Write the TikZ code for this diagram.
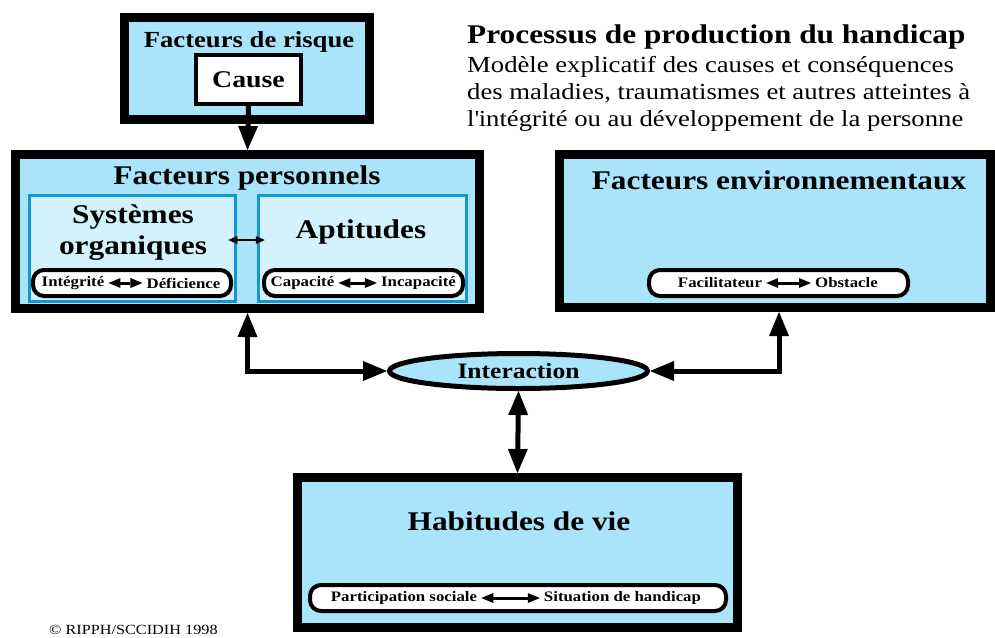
\documentclass[tikz,border=0pt]{standalone}
\usepackage{fontspec}
\setmainfont{Liberation Serif}[FakeStretch=1.16]
\usetikzlibrary{arrows.meta}
\usetikzlibrary{shapes.geometric}
\definecolor{lb}{HTML}{AAE4FA}
\definecolor{vl}{HTML}{D4F2FD}
\definecolor{mb}{HTML}{1198D0}
\tikzset{
  bigbox/.style={draw=black, line width=9pt, fill=lb, inner sep=0pt},
  subbox/.style={draw=mb, line width=3.5pt, fill=vl, inner sep=0pt},
  pillbox/.style={draw=black, line width=4pt, fill=white, rounded corners=11pt, inner sep=0pt},
  headtext/.style={font=\bfseries\fontsize{27}{31}\selectfont, inner sep=0pt},
  pilltext/.style={font=\bfseries\fontsize{14.5}{17}\selectfont, inner sep=4pt},
  bigarrow/.style={line width=5pt, {Triangle[length=24pt,width=20pt,line width=0pt]}-{Triangle[length=24pt,width=20pt,line width=0pt]}},
  pillarrow/.style={line width=3pt, {Triangle[length=12pt,width=10pt,line width=0pt]}-{Triangle[length=12pt,width=10pt,line width=0pt]}},
}

\begin{document}
\begin{tikzpicture}[x=1pt, y=-1pt]
  \useasboundingbox (0,0) rectangle (995,637);
  \clip (0,0) rectangle (995,637);

  % title
  \node[font=\bfseries\fontsize{27}{30}\selectfont, anchor=base west, inner sep=0pt] (titre) at (467,43) {Processus de production du handicap};
  \node[font=\fontsize{23}{27}\selectfont, anchor=base west, inner sep=0pt] (sous1) at (467,72) {Modèle explicatif des causes et conséquences};
  \node[font=\fontsize{23}{27}\selectfont, anchor=base west, inner sep=0pt] (sous2) at (467,99) {des maladies, traumatismes et autres atteintes à};
  \node[font=\fontsize{23}{27}\selectfont, anchor=base west, inner sep=0pt] (sous3) at (467,126) {l\textquotesingle intégrité ou au développement de la personne};

  % facteurs de risque
  \node[bigbox, minimum width=245pt, minimum height=102pt] (risque) at (247,68.5) {};
  \node[font=\bfseries\fontsize{23}{26}\selectfont, anchor=base, inner sep=0pt] (risquelbl) at (249,47) {Facteurs de risque};
  \node[draw=black, line width=4pt, fill=white, minimum width=105pt, minimum height=49pt, inner sep=0pt,
        font=\bfseries\fontsize{24}{28}\selectfont] (cause) at (248.5,79.5) {Cause};

  % facteurs personnels
  \node[bigbox, minimum width=464pt, minimum height=154pt] (pers) at (247.5,231.5) {};
  \node[headtext, anchor=base] (perslbl) at (247,184) {Facteurs personnels};
  \node[subbox, minimum width=206pt, minimum height=106pt] (sys) at (132.5,248.5) {};
  \node[subbox, minimum width=208pt, minimum height=106pt] (apt) at (362.5,248.5) {};
  \node[headtext, align=center] (syslbl) at (133,233) {Systèmes\\organiques};
  \node[headtext, anchor=base] (aptlbl) at (361,238) {Aptitudes};
  \draw[line width=2pt, {Triangle[length=9pt,width=8pt,line width=0pt]}-{Triangle[length=9pt,width=8pt,line width=0pt]}]
    ([xshift=-9pt, yshift=8.5pt]sys.east) -- ([xshift=8pt, yshift=8.5pt]apt.west);

  \node[pillbox, minimum width=198pt, minimum height=26pt] (integ) at (132,283) {};
  \node[pilltext] (integtxt) at (73,283) {Intégrité};
  \node[pilltext] (defic) at (183.5,283) {Déficience};
  \draw[pillarrow] (integtxt) -- (defic);

  \node[pillbox, minimum width=199pt, minimum height=26pt] (capa) at (363.5,283) {};
  \node[pilltext] (capatxt) at (302.5,283) {Capacité};
  \node[pilltext] (incapa) at (418.5,283) {Incapacité};
  \draw[pillarrow] (capatxt) -- (incapa);

  % facteurs environnementaux
  \node[bigbox, minimum width=431pt, minimum height=153pt] (env) at (775,231) {};
  \node[headtext, anchor=base] (envlbl) at (779,189) {Facteurs environnementaux};
  \node[pillbox, minimum width=259pt, minimum height=26pt] (facil) at (778.5,283) {};
  \node[pilltext] (faciltxt) at (720,283) {Facilitateur};
  \node[pilltext] (obst) at (846.5,283) {Obstacle};
  \draw[pillarrow] (faciltxt) -- (obst);

  % interaction
  \node[ellipse, draw=black, line width=5pt, fill=lb, minimum width=258pt, minimum height=35pt, inner sep=0pt,
        font=\bfseries\fontsize{22}{26}\selectfont] (inter) at (518.5,371) {Interaction};

  % habitudes de vie
  \node[bigbox, minimum width=440pt, minimum height=150pt] (hab) at (517.5,552.5) {};
  \node[headtext, anchor=base] (hablbl) at (519,530) {Habitudes de vie};
  \node[pillbox, minimum width=416pt, minimum height=26pt] (partic) at (518,598) {};
  \node[pilltext] (partictxt) at (404,598) {Participation sociale};
  \node[pilltext] (situ) at (622.5,598) {Situation de handicap};
  \draw[pillarrow] (partictxt) -- (situ);

  % connecteurs
  \draw[line width=5pt, -{Triangle[length=24pt,width=20pt,line width=0pt]}] (cause.south) -- (pers.north);
  \draw[bigarrow] (pers.south) |- (inter.west);
  \draw[bigarrow] ([xshift=4pt]env.south) |- (inter.east);
  \draw[bigarrow] (inter.south) -- (hab.north);

  \node[font=\fontsize{14}{16}\selectfont, anchor=base west, inner sep=0pt] (copy) at (49,634.5) {© RIPPH/SCCIDIH 1998};
\end{tikzpicture}
\end{document}
